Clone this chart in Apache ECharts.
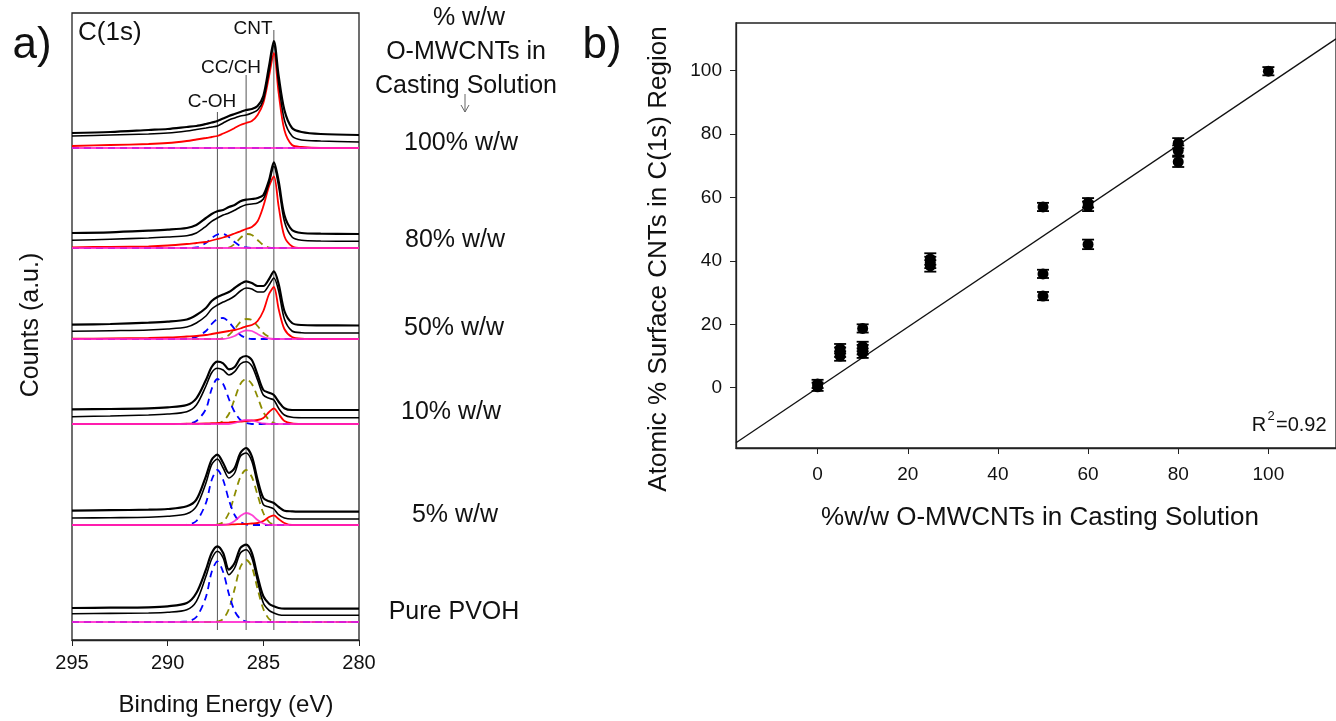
<!DOCTYPE html>
<html>
<head>
<meta charset="utf-8">
<script src="https://cdn.jsdelivr.net/npm/echarts@6/dist/echarts.min.js"></script>
<style>
html, body { margin: 0; padding: 0; background: #fff; }
#chart { width: 1336px; height: 721px; }
</style>
</head>
<body>
<div id="chart"></div>
<script>
// ---- panel a: C(1s) spectra, heights above each sample's baseline ----
var energy = [295, 293, 291, 290, 289, 288.5, 288, 287.7, 287.4, 287.1, 286.8, 286.5, 286.2,
              285.9, 285.6, 285.3, 285.0, 284.7, 284.45, 284.2, 283.9, 283.5, 283, 282, 280];
var zero25 = [0,0,0,0,0,0,0,0,0,0,0,0,0,0,0,0,0,0,0,0,0,0,0,0,0];

var sampleLabels = ['100% w/w', '80% w/w', '50% w/w', '10% w/w', '5% w/w', 'Pure PVOH'];
var sampleOffsets = [492, 392, 301, 216, 115, 18];

var upper100 = [15,16,18,19,21,22,24,25.5,27,29.5,32,34,36,38,39,42,52,82,107,72,38,20,16,14,13];
var lower100 = [12,13,14,15,17,18.5,20,21,22,25,28,30,32,33,35,38,48,77,103,65,28,12,8,7,6];
var cnt100   = [2,3,4,5,7,8.5,10,11,12,14.5,17,20,23,25,27,33,45,72,95,55,18,3,1,0,0];

var upper80 = [15,15.7,17.3,18.3,20,23,30,34,36.7,38,41,43,46.7,48.3,49,50,53,68,85.7,66.7,33,18,15,14.3,14];
var lower80 = [7.7,8.8,10,11,12.3,15,21.7,26.7,30,33,35,37.7,41,43.3,44,45,49,65,81.7,61.7,26.7,11,7.7,7,6.7];
var cnt80   = [0.7,1.2,1.7,2.5,4,5,6,7.5,9,10.5,12.3,14.5,16.7,19,21,26.7,41.7,61.7,71.7,41.7,11.7,1.7,0,0,0];
var coh80   = [0,0,0,0,0,0.5,5,10,13.5,14,11,6,2,0.5,0,0,0,0,0,0,0,0,0,0,0];
var cc80    = [0,0,0,0,0,0,0,0,0,0,0.5,4,10,14,13,8,3,0.5,0,0,0,0,0,0,0];

var upper50 = [14.3,15,16.3,17.3,19.5,24,31,38,42,44.5,47,51,55,57.6,56,53,53,60,67.6,55,28,16,14,13.7,13.5];
var lower50 = [7.7,8.3,9,10,12,16,23,30,34,37,39.5,43,48,51,50,47,47,54,61,48,20,8,6.3,6,6];
var cnt50   = [0.3,0.6,1,1.5,2.5,3,4,5,6,7,8,9,10.5,12.7,14,18,28,45,52,30,10,2,0.3,0,0];
var coh50   = [0,0,0,0,0.3,2,8,15,20,21,17,10,4,1,0,0,0,0,0,0,0,0,0,0,0];
var cc50    = [0,0,0,0,0,0,0,0,0,1,4,10,17,20,19,13,6,2,0,0,0,0,0,0,0];
var pink50  = [0,0,0,0,0,0,0,0,0,0,1,3,6.5,8.7,8,5,2,0.5,0,0,0,0,0,0,0];

var upper10 = [14.7,15,15.7,16.7,19,25.7,44,57,62.3,60.7,54.7,57,65.7,68,64,49,34,31.3,29,22.3,15.7,14,14,14,14];
var lower10 = [7.3,8,9,10,12.3,19,38,51.3,55.7,54,49,52.3,60,62.3,58,44,29,25.7,24,15.7,9,6.7,6.3,6.3,6.3];
var cnt10   = [0,0,0,0,0.3,0.4,0.5,0.8,1,1.3,1.6,2,2.4,3,3.5,4,6,12,15.7,10,3,0.5,0,0,0];
var coh10   = [0,0,0,0,0.3,3,15,35,45,40,25,12,4,1,0,0,0,0,0,0,0,0,0,0,0];
var cc10    = [0,0,0,0,0,0,0,0,0.5,3,10,25,40,45,40,27,12,4,1,0,0,0,0,0,0];
var pink10  = [0,0,0,0,0,0,0,0,0,0,0,1,3,4,3.5,2,0.5,0,0,0,0,0,0,0,0];

var upper5 = [14.3,14.8,15.3,16,18.7,25.3,48.7,65.3,70.3,62,52,57,72,77,68.7,45.3,27,23.7,22,18,14.3,13.7,13.3,13.3,13.3];
var lower5 = [7,7.3,7.7,8.7,11.3,18.7,42,60.3,66,57,47,52,68.7,72,63.7,40.3,20.3,18,16,10.3,7,6,6,6,6];
var cnt5   = [0,0,0,0,0,0,0,0,0,0.3,0.5,0.7,0.9,1,1.5,2,4,8,9.7,6,2,0,0,0,0];
var coh5   = [0,0,0,0,0.3,4,22,45,55,45,25,10,3,0.5,0,0,0,0,0,0,0,0,0,0,0];
var cc5    = [0,0,0,0,0,0,0,0,0.5,3,12,30,48,55,48,30,12,3,0.5,0,0,0,0,0,0];
var pink5  = [0,0,0,0,0,0,0,0,0,0,1,4,9,12,10,5,1.5,0,0,0,0,0,0,0,0];

var upperPVOH = [14,14.3,14.7,15.7,19,29,52.3,69,75.7,69,52.3,59,74,77.3,69,45.7,25.7,18.3,15.7,14,13.3,13.3,13.3,13.3,13.3];
var lowerPVOH = [8.3,8.6,9,9.7,12.3,20.7,45.7,63,70.7,64,47.3,54,69,72.3,64,40.7,19,11.7,9,7.3,6.7,6.7,6.7,6.7,6.7];
var cohPVOH   = [0,0,0,0,0.5,5,25,50,60.7,50,28,11,3,0.5,0,0,0,0,0,0,0,0,0,0,0];
var ccPVOH    = [0,0,0,0,0,0,0,0,0.5,3,13,33,55,62,55,33,13,3,0.5,0,0,0,0,0,0];

// reference lines for the three peak positions
var refEnergy = [287.4, 285.9, 284.45];
var refTop = [528, 565, 610];
var refBottom = 10;

// ---- panel b: surface CNT vs casting solution ----
var castX = [0, 0, 5, 5, 5, 10, 10, 10, 10, 25, 25, 25, 50, 50, 50, 60, 60, 60, 80, 80, 80, 100];
var surfY = [1.2, 0.3, 12.3, 11.2, 10, 18.7, 13, 12, 10.9, 40.6, 39.5, 38.4, 57, 35.9, 28.9, 58.3, 57.2, 45.2, 77.1, 74.8, 71.2, 99.8];
var surfErr = [1.3, 1.3, 1.5, 1.5, 1.5, 1.3, 1.5, 1.5, 1.5, 1.8, 1.8, 1.8, 1.3, 1.3, 1.3, 1.5, 1.5, 1.5, 1.6, 1.6, 1.6, 1.3];
var fitSlope = 0.957;
var fitIntercept = -0.05;
var fitRange = [-18.1, 115];
var axisTicksB = [0, 20, 40, 60, 80, 100];

var FONT = '"Liberation Sans", Arial, sans-serif';

var samples = [
    { u: upper100,  l: lower100,  cnt: cnt100, coh: zero25,  cc: zero25, pink: zero25 },
    { u: upper80,   l: lower80,   cnt: cnt80,  coh: coh80,   cc: cc80,   pink: zero25 },
    { u: upper50,   l: lower50,   cnt: cnt50,  coh: coh50,   cc: cc50,   pink: pink50 },
    { u: upper10,   l: lower10,   cnt: cnt10,  coh: coh10,   cc: cc10,   pink: pink10 },
    { u: upper5,    l: lower5,    cnt: cnt5,   coh: coh5,    cc: cc5,    pink: pink5 },
    { u: upperPVOH, l: lowerPVOH, cnt: null,   coh: cohPVOH, cc: ccPVOH, pink: zero25 }
];

function curve(vals, off, color, width, dashed, z, opacity) {
    return {
        type: 'line',
        xAxisIndex: 0,
        yAxisIndex: 0,
        data: energy.map(function (e, i) { return [e, vals[i] + off]; }),
        symbol: 'none',
        smooth: 0.3,
        silent: true,
        z: z,
        lineStyle: { color: color, width: width, type: dashed ? [7, 5] : 'solid', opacity: opacity || 1 }
    };
}

var series = [];
samples.forEach(function (s, k) {
    var off = sampleOffsets[k];
    series.push(curve(s.cc, off, '#8c8c00', 1.8, true, 3));
    series.push(curve(s.coh, off, '#0000ff', 1.8, true, 3));
    if (s.cnt) series.push(curve(s.cnt, off, '#ff0000', 1.8, false, 4));
    series.push(curve(s.pink, off, '#ff22cc', 1.8, false, 5, 0.85));
    series.push(curve(s.l, off, '#000', 1.6, false, 6));
    series.push(curve(s.u, off, '#000', 2.2, false, 7));
});

refEnergy.forEach(function (e, i) {
    series.push({
        type: 'line', xAxisIndex: 0, yAxisIndex: 0, symbol: 'none', silent: true, z: 1,
        data: [[e, refTop[i]], [e, refBottom]],
        lineStyle: { color: '#555', width: 1 }
    });
});

// panel b series
series.push({
    type: 'line', xAxisIndex: 1, yAxisIndex: 1, symbol: 'none', silent: true, z: 2,
    data: fitRange.map(function (x) { return [x, fitSlope * x + fitIntercept]; }),
    lineStyle: { color: '#111', width: 1.3 }
});
series.push({
    type: 'custom', xAxisIndex: 1, yAxisIndex: 1, z: 3, silent: true,
    data: castX.map(function (x, i) { return [x, surfY[i] - surfErr[i], surfY[i] + surfErr[i]]; }),
    renderItem: function (params, api) {
        var lo = api.coord([api.value(0), api.value(1)]);
        var hi = api.coord([api.value(0), api.value(2)]);
        var hw = 6;
        var st = { stroke: '#000', lineWidth: 1.8 };
        return {
            type: 'group',
            children: [
                { type: 'line', shape: { x1: lo[0], y1: lo[1], x2: hi[0], y2: hi[1] }, style: st },
                { type: 'line', shape: { x1: lo[0] - hw, y1: lo[1], x2: lo[0] + hw, y2: lo[1] }, style: st },
                { type: 'line', shape: { x1: hi[0] - hw, y1: hi[1], x2: hi[0] + hw, y2: hi[1] }, style: st }
            ]
        };
    }
});
series.push({
    type: 'scatter', xAxisIndex: 1, yAxisIndex: 1, z: 4, silent: true,
    symbol: 'circle', symbolSize: 11,
    data: castX.map(function (x, i) { return [x, surfY[i]]; }),
    itemStyle: { color: '#000', opacity: 1 }
});

function txt(text, x, y, size, opts) {
    opts = opts || {};
    return {
        type: 'text', x: x, y: y, rotation: opts.rot || 0, silent: true,
        style: {
            text: text, font: size + 'px ' + FONT, fill: '#111',
            align: opts.align || 'center', verticalAlign: 'middle',
            textAlign: opts.align || 'center', textVerticalAlign: 'middle'
        }
    };
}

var labelX = [461, 455, 454, 451, 455, 454];
var labelY = [143, 240, 328, 412, 515, 612];

var graphics = [
    txt('a)', 32, 46, 44),
    txt('b)', 602, 46, 44),
    txt('C(1s)', 78, 33, 26, { align: 'left' }),
    txt('CNT', 253, 29, 19),
    txt('CC/CH', 231, 68, 19),
    txt('C-OH', 212, 102, 19),
    txt('Counts (a.u.)', 31, 325, 25, { rot: Math.PI / 2 }),
    txt('Binding Energy (eV)', 226, 705, 24),
    txt('% w/w', 469, 18, 25),
    txt('O-MWCNTs in', 466, 52, 25),
    txt('Casting Solution', 466, 86, 25),
    txt('Atomic % Surface CNTs in C(1s) Region', 659, 259, 26, { rot: Math.PI / 2 }),
    txt('%w/w O-MWCNTs in Casting Solution', 1040, 518, 26),
    txt('R', 1259, 425, 20),
    txt('2', 1271, 416, 13),
    txt('=0.92', 1276, 425, 20, { align: 'left' }),
    {
        type: 'line', silent: true,
        shape: { x1: 465, y1: 94, x2: 465, y2: 112 },
        style: { stroke: '#666', lineWidth: 1 }
    },
    {
        type: 'polyline', silent: true,
        shape: { points: [[461, 105], [465, 112], [469, 105]] },
        style: { stroke: '#666', lineWidth: 1, fill: null }
    }
];
sampleLabels.forEach(function (t, i) {
    graphics.push(txt(t, labelX[i], labelY[i], 25));
});

var axisText = { color: '#111', fontSize: 20, fontFamily: FONT };

var option = {
    animation: false,
    backgroundColor: '#fff',
    grid: [
        { left: 72, top: 13, width: 287, height: 627, show: true, borderColor: '#222', borderWidth: 1.3 },
        { left: 736, top: 23, width: 607, height: 425, show: true, borderColor: '#222', borderWidth: 1.3 }
    ],
    xAxis: [
        {
            type: 'value', gridIndex: 0, min: 280, max: 295, interval: 5, inverse: true,
            axisLine: { show: true, onZero: false, lineStyle: { color: '#222', width: 1.3 } },
            axisTick: { show: true, inside: false, length: 6, lineStyle: { color: '#222' } },
            axisLabel: Object.assign({ margin: 13 }, axisText),
            splitLine: { show: false }
        },
        {
            type: 'value', gridIndex: 1, min: fitRange[0], max: fitRange[1],
            axisLine: { show: true, onZero: false, lineStyle: { color: '#222', width: 1.3 } },
            axisTick: { show: true, inside: false, length: 6, customValues: axisTicksB, lineStyle: { color: '#222' } },
            axisLabel: Object.assign({ margin: 17, customValues: axisTicksB }, axisText, { fontSize: 19 }),
            splitLine: { show: false }
        }
    ],
    yAxis: [
        {
            type: 'value', gridIndex: 0, min: 0, max: 627,
            axisLine: { show: false }, axisTick: { show: false },
            axisLabel: { show: false }, splitLine: { show: false }
        },
        {
            type: 'value', gridIndex: 1, min: -19, max: 115,
            axisLine: { show: true, onZero: false, lineStyle: { color: '#222', width: 1.3 } },
            axisTick: { show: true, inside: false, length: 6, customValues: axisTicksB, lineStyle: { color: '#222' } },
            axisLabel: Object.assign({ margin: 14, customValues: axisTicksB }, axisText, { fontSize: 19 }),
            splitLine: { show: false }
        }
    ],
    graphic: graphics,
    series: series
};

var chart = echarts.init(document.getElementById('chart'));
chart.setOption(option);
</script>
</body>
</html>
